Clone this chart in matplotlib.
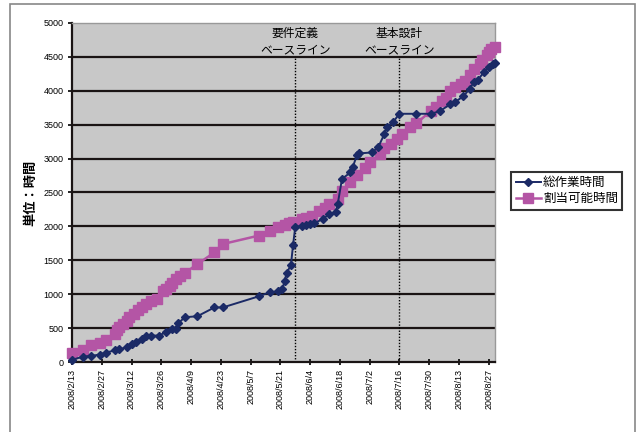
import matplotlib
matplotlib.use("Agg")
import matplotlib.pyplot as plt
import matplotlib.dates as mdates
import pandas as pd
from matplotlib.patches import Rectangle

plt.rcParams['font.family'] = ['Noto Sans CJK JP', 'DejaVu Sans']

# 総作業時間 (blue, diamonds)
work_dates = ['2008-02-13', '2008-02-18', '2008-02-22', '2008-02-26', '2008-02-29',
              '2008-03-04', '2008-03-06', '2008-03-10', '2008-03-12', '2008-03-14',
              '2008-03-17', '2008-03-19', '2008-03-21', '2008-03-25', '2008-03-28',
              '2008-03-31', '2008-04-02', '2008-04-03', '2008-04-06', '2008-04-12',
              '2008-04-20', '2008-04-24', '2008-05-11', '2008-05-16', '2008-05-20',
              '2008-05-22', '2008-05-23', '2008-05-24', '2008-05-26', '2008-05-27',
              '2008-05-28', '2008-05-31', '2008-06-02', '2008-06-04', '2008-06-06',
              '2008-06-10', '2008-06-13', '2008-06-16', '2008-06-17', '2008-06-19',
              '2008-06-23', '2008-06-24', '2008-06-26', '2008-06-27', '2008-07-03',
              '2008-07-06', '2008-07-09', '2008-07-10', '2008-07-13', '2008-07-16',
              '2008-07-24', '2008-07-31', '2008-08-04', '2008-08-09', '2008-08-11',
              '2008-08-15', '2008-08-18', '2008-08-20', '2008-08-22', '2008-08-25',
              '2008-08-27', '2008-08-29', '2008-08-30']
work_hours = [30, 80, 90, 110, 140,
              170, 190, 215, 265, 290,
              340, 390, 390, 390, 440,
              490, 490, 570, 660, 675,
              805, 805, 970, 1030, 1040,
              1075, 1200, 1310, 1435, 1730,
              1985, 2010, 2025, 2035, 2045,
              2110, 2180, 2205, 2330, 2700,
              2795, 2870, 3045, 3075, 3090,
              3165, 3365, 3460, 3535, 3660,
              3660, 3660, 3700, 3800, 3830,
              3915, 4025, 4125, 4165, 4280,
              4345, 4395, 4405]

# 割当可能時間 (pink, squares)
alloc_dates = ['2008-02-13', '2008-02-18', '2008-02-22', '2008-02-26', '2008-02-29',
               '2008-03-04', '2008-03-05', '2008-03-06', '2008-03-08', '2008-03-10',
               '2008-03-11', '2008-03-13', '2008-03-15', '2008-03-17', '2008-03-19',
               '2008-03-21', '2008-03-24', '2008-03-27', '2008-03-28', '2008-03-30',
               '2008-03-31', '2008-04-02', '2008-04-04', '2008-04-06', '2008-04-12',
               '2008-04-20', '2008-04-24', '2008-05-11', '2008-05-16', '2008-05-20',
               '2008-05-23', '2008-05-25', '2008-05-27', '2008-05-31', '2008-06-02',
               '2008-06-05', '2008-06-08', '2008-06-11', '2008-06-13', '2008-06-17',
               '2008-06-19', '2008-06-23', '2008-06-26', '2008-06-30', '2008-07-02',
               '2008-07-07', '2008-07-09', '2008-07-12', '2008-07-15', '2008-07-17',
               '2008-07-21', '2008-07-24', '2008-07-31', '2008-08-02', '2008-08-05',
               '2008-08-07', '2008-08-09', '2008-08-11', '2008-08-14', '2008-08-16',
               '2008-08-18', '2008-08-20', '2008-08-23', '2008-08-24', '2008-08-26',
               '2008-08-27', '2008-08-28', '2008-08-30']
alloc_hours = [140, 175, 250, 275, 325,
               420, 470, 520, 565, 610,
               660, 710, 760, 805, 850,
               905, 930, 1040, 1080, 1125,
               1170, 1225, 1275, 1310, 1445,
               1615, 1740, 1865, 1935, 1985,
               2025, 2045, 2060, 2110, 2120,
               2160, 2230, 2270, 2330, 2400,
               2520, 2650, 2750, 2860, 2945,
               3070, 3150, 3215, 3290, 3365,
               3460, 3520, 3705, 3760, 3855,
               3900, 4000, 4050, 4100, 4150,
               4230, 4320, 4395, 4450, 4520,
               4570, 4615, 4640]

baseline_dates = ['2008-05-28', '2008-07-16']
baseline_names = ['要件定義', '基本設計']

work_dates = pd.to_datetime(work_dates)
alloc_dates = pd.to_datetime(alloc_dates)
baseline_dates = pd.to_datetime(baseline_dates)
tick_dates = pd.date_range('2008-02-13', '2008-08-27', freq='14D')

fig = plt.figure(figsize=(6.39, 4.32), dpi=100)
ax = fig.add_axes([0.1127, 0.162, 0.662, 0.785])

# outer chart frame
fig.patches.append(Rectangle((10 / 639, -0.01), 625 / 639, 1.0 - 4 / 432 + 0.01,
                             transform=fig.transFigure, fill=False,
                             edgecolor='#888888', linewidth=1.2))

ax.set_facecolor('#c8c8c8')
ax.set_ylim(0, 5000)
ax.set_xlim(pd.Timestamp('2008-02-13'), pd.Timestamp('2008-08-30'))
ax.set_yticks(range(0, 5001, 500))
for v in range(500, 5000, 500):
    ax.axhline(v, color='#1a1414', linewidth=1.6, zorder=1)

for d in baseline_dates:
    ax.plot([d, d], [0, 4480], color='black', linestyle=(0, (1, 1.2)),
            linewidth=1.0, zorder=2, clip_on=False)
for d, name in zip(baseline_dates, baseline_names):
    ax.text(d, 4840, name, ha='center', va='center', fontsize=8.5, zorder=3)
    ax.text(d, 4600, 'ベースライン', ha='center', va='center', fontsize=8.5, zorder=3)

ax.plot(work_dates, work_hours, color='#1b2a66', linewidth=1.4, marker='D',
        markersize=4, label='総作業時間', zorder=5, clip_on=False)
ax.plot(alloc_dates, alloc_hours, color='#b455a5', linewidth=1.8, marker='s',
        markersize=6.5, label='割当可能時間', zorder=4, clip_on=False)

ax.set_xticks(tick_dates)
ax.set_xticklabels([f'{d.year}/{d.month}/{d.day}' for d in tick_dates],
                   rotation=90, fontsize=6.5, family='Liberation Sans')
ax.set_yticklabels([str(v) for v in range(0, 5001, 500)],
                   fontsize=6.5, family='Liberation Sans')
ax.tick_params(axis='x', direction='inout', length=4, width=1.2, pad=3)
ax.tick_params(axis='y', direction='out', length=3, width=1.2, pad=3)

for s in ['left', 'bottom']:
    ax.spines[s].set_color('#1a1414')
    ax.spines[s].set_linewidth(1.6)
for s in ['top', 'right']:
    ax.spines[s].set_color('#999999')
    ax.spines[s].set_linewidth(1.0)

ax.set_ylabel('単位：時間', fontsize=9.5, fontweight='bold')
ax.yaxis.set_label_coords(-0.083, 0.5)

leg = fig.legend(loc='upper left', bbox_to_anchor=(0.80, 0.602), fontsize=9,
                 frameon=True, fancybox=False, borderpad=0.35, handlelength=2.0,
                 handletextpad=0.2, labelspacing=0.25, borderaxespad=0)
leg.get_frame().set_edgecolor('black')
leg.get_frame().set_linewidth(1.5)

fig.savefig('out.png', dpi=100)
